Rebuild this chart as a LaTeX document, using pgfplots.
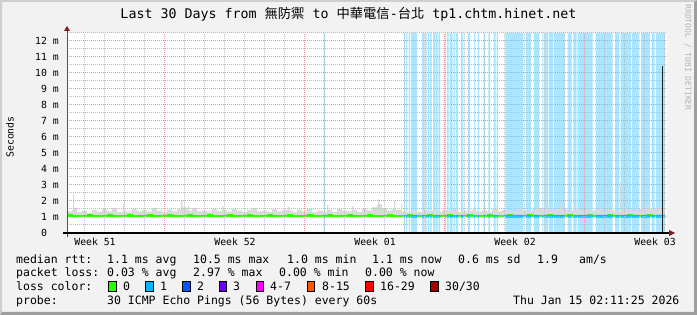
\documentclass[border=0pt]{standalone}
\usepackage{pgfplots}
\pgfplotsset{compat=1.18}
\usepackage{pgfplotstable}
\usepackage{fontspec}
\setmainfont{DejaVu Sans Mono}
\newfontfamily\cjk{Noto Sans CJK TC}
\definecolor{bgc}{HTML}{F2F2F2}
\definecolor{shadea}{HTML}{CFCFCF}
\definecolor{shadeb}{HTML}{9E9E9E}
\definecolor{mgrid}{HTML}{EB9595}
\definecolor{ggrid}{HTML}{BDBDBD}
\definecolor{arrowc}{HTML}{801F1F}
\definecolor{axisc}{HTML}{505050}
\definecolor{lossbg}{HTML}{AAE6FF}
\definecolor{smoke}{HTML}{DADADA}
\definecolor{lc0}{HTML}{26FF00}
\definecolor{lc1}{HTML}{00B8FF}
\definecolor{lc2}{HTML}{0059FF}
\definecolor{lc3}{HTML}{6A00FF}
\definecolor{lc4}{HTML}{FF00FF}
\definecolor{lc8}{HTML}{FF5500}
\definecolor{lc16}{HTML}{FF0000}
\definecolor{lc30}{HTML}{A10000}
\definecolor{wm}{HTML}{B4B4B4}

% loss stripes (x in days since start; s=1 where a packet was lost)
\pgfplotstableread{
x s
0 0
12.83 1
12.91 0
16.85 1
16.89 0
16.95 1
17.015 0
17.075 1
17.15 0
17.20 1
17.50 0
17.75 1
17.85 0
17.90 1
17.975 0
18.025 1
18.10 0
18.15 1
18.225 0
18.30 1
18.40 0
18.435 1
18.535 0
18.565 1
18.65 0
18.90 1
18.95 0
19.00 1
19.075 0
19.125 1
19.275 0
19.325 1
19.40 0
19.45 1
19.55 0
19.70 1
19.80 0
20.035 1
20.15 0
20.35 1
20.415 0
20.535 1
20.60 0
20.835 1
20.90 0
21.065 1
21.15 0
21.335 1
21.435 0
21.485 1
21.55 0
21.915 1
22.815 0
22.95 1
23.20 0
23.335 1
23.615 0
23.765 1
23.815 0
23.865 1
24.065 0
24.10 1
24.315 0
24.35 1
24.885 0
25.035 1
25.235 0
25.315 1
25.485 0
25.535 1
26.285 0
26.435 1
27.285 0
27.40 1
27.615 0
27.685 1
28.20 0
28.25 1
28.615 0
28.70 1
29.15 0
29.235 1
29.385 0
29.45 1
29.90 0
30 0
}\stripes

% smoke upper envelope (ms), closed back along 1.0 ms
\pgfplotstableread{
x y
0.00 1.35
0.25 1.45
0.30 2.45
0.36 1.55
0.50 1.30
0.75 1.40
1.00 1.25
1.25 1.45
1.50 1.30
1.75 1.50
2.00 1.35
2.25 1.55
2.50 1.30
2.80 1.85
2.86 1.40
3.00 1.30
3.25 1.50
3.50 1.35
3.75 1.45
4.00 1.30
4.25 1.55
4.50 1.40
4.75 1.30
5.00 1.45
5.25 1.35
5.50 1.50
5.70 2.00
5.78 1.60
6.00 1.45
6.05 1.70
6.10 1.40
6.25 1.55
6.50 1.35
6.75 1.40
7.00 1.30
7.25 1.50
7.50 1.35
7.75 1.70
7.82 1.45
8.00 1.30
8.25 1.50
8.50 1.40
8.75 1.30
9.00 1.45
9.25 1.55
9.50 1.35
9.75 1.40
10.00 1.30
10.25 1.50
10.50 1.35
10.75 1.45
11.05 1.65
11.12 1.40
11.25 1.30
11.50 1.45
11.75 1.35
12.00 1.50
12.25 1.30
12.50 1.40
12.75 1.35
13.00 1.75
13.07 1.45
13.25 1.30
13.50 1.50
13.75 1.40
14.00 1.35
14.25 1.70
14.32 1.45
14.50 1.30
14.75 1.50
15.00 1.40
15.25 1.60
15.50 1.75
15.55 2.10
15.62 1.80
15.75 1.55
16.00 1.40
16.25 1.50
16.35 2.00
16.42 1.45
16.70 1.80
16.76 1.35
17.00 1.30
17.25 1.40
17.50 1.30
17.75 1.45
18.00 1.35
18.25 1.40
18.50 1.30
18.75 1.45
19.00 1.35
19.25 1.50
19.50 1.30
19.75 1.40
20.00 1.35
20.25 1.45
20.40 1.60
20.46 1.35
20.75 1.40
21.00 1.30
21.25 1.50
21.50 1.35
21.75 1.45
22.00 1.40
22.25 1.35
22.50 1.45
22.65 1.60
22.72 1.40
23.00 1.35
23.25 1.50
23.50 1.55
23.75 1.45
24.00 1.60
24.25 1.50
24.50 1.45
24.65 1.75
24.72 1.50
25.00 1.40
25.35 1.70
25.42 1.45
25.75 1.35
26.00 1.45
26.25 1.40
26.50 1.50
26.75 1.35
27.00 1.45
27.25 1.40
27.50 1.35
27.65 3.10
27.70 1.55
28.00 1.45
28.25 1.40
28.45 1.65
28.52 1.50
28.75 1.55
29.05 1.70
29.12 1.50
29.50 1.60
29.80 1.00
0.00 1.00
}\smokedata

% median rtt (ms)
\pgfplotstableread{
x y
0.00 1.05
0.05 1.12
0.22 1.05
1.05 1.12
1.22 1.05
2.05 1.12
2.22 1.05
3.05 1.12
3.22 1.05
4.05 1.12
4.22 1.05
5.05 1.12
5.22 1.05
6.05 1.12
6.22 1.05
7.05 1.12
7.22 1.05
8.05 1.12
8.22 1.05
9.05 1.12
9.22 1.05
10.05 1.12
10.22 1.05
11.05 1.12
11.22 1.05
12.05 1.12
12.22 1.05
13.05 1.12
13.22 1.05
14.05 1.12
14.22 1.05
15.05 1.12
15.22 1.05
16.05 1.12
16.22 1.05
17.05 1.12
17.22 1.05
18.05 1.12
18.22 1.05
19.05 1.12
19.22 1.05
20.05 1.12
20.22 1.05
21.05 1.12
21.22 1.05
22.05 1.12
22.22 1.05
23.05 1.12
23.22 1.05
24.05 1.12
24.22 1.05
25.05 1.12
25.22 1.05
26.05 1.12
26.22 1.05
27.05 1.12
27.22 1.05
28.05 1.12
28.22 1.05
29.05 1.12
29.22 1.05
29.80 1.05
}\mediandata

\begin{document}
\begin{tikzpicture}
\path[use as bounding box] (0,0) rectangle (697bp,315bp);
\fill[bgc] (0,0) rectangle (697bp,315bp);
\fill[shadea] (0,0) -- (0,315bp) -- (697bp,315bp) -- (695bp,313bp) -- (2bp,313bp) -- (2bp,2bp) -- cycle;
\fill[shadeb] (0,0) -- (697bp,0) -- (697bp,315bp) -- (694bp,313bp) -- (694bp,3bp) -- (2bp,3bp) -- cycle;

\begin{axis}[
  at={(67bp,82bp)}, anchor=south west,
  scale only axis, width=600bp, height=200bp,
  xmin=0, xmax=30, ymin=0, ymax=12.5,
  axis line style={draw=none},
  axis background/.style={fill=white},
  axis on top,
  xtick={4.865,11.865,18.865,25.865},
  xticklabels={},
  minor xtick={0.865,1.865,2.865,3.865,5.865,6.865,7.865,8.865,9.865,10.865,12.865,13.865,14.865,15.865,16.865,17.865,19.865,20.865,21.865,22.865,23.865,24.865,26.865,27.865,28.865,29.865},
  extra x ticks={1.4,8.4,15.4,22.4,29.4},
  extra x tick labels={Week 51,Week 52,Week 01,Week 02,Week 03},
  extra x tick style={grid=none},
  ytick={0,1,2,3,4,5,6,7,8,9,10,11,12},
  yticklabels={0\hphantom{ m},1 m,2 m,3 m,4 m,5 m,6 m,7 m,8 m,9 m,10 m,11 m,12 m},
  minor ytick={0.5,1.5,2.5,3.5,4.5,5.5,6.5,7.5,8.5,9.5,10.5,11.5,12.5},
  grid=both,
  major grid style={draw=mgrid, dash pattern=on 1bp off 1bp, line width=1bp},
  minor grid style={draw=ggrid, dash pattern=on 1bp off 1bp, line width=1bp},
  major tick length=0pt, minor tick length=0pt,
  xticklabel style={font=\fontsize{9.8bp}{11bp}\selectfont, anchor=center, inner sep=0pt, yshift=-9bp},
  yticklabel style={font=\fontsize{9.8bp}{11bp}\selectfont, anchor=east, inner sep=0pt, xshift=-8bp},
  clip=true,
]
\addplot[const plot, fill=lossbg, draw=none] table[x=x, y expr=\thisrow{s}*12.5] {\stripes} \closedcycle;
\addplot[const plot, fill=smoke, draw=none] table[x=x, y=y] {\smokedata};
\addplot[const plot, draw=lc0, line width=2.6bp] table[x=x, y=y] {\mediandata};
\addplot[const plot, fill=lc1, draw=none] table[x=x, y expr=0.965+0.17*\thisrow{s}] {\stripes};
\addplot[draw=black!88, line width=1.6bp] coordinates {(29.77,0) (29.77,10.45)};
\end{axis}

% axes lines and arrows
\draw[axisc, line width=1bp] (67bp,78bp) -- (67bp,284bp);
\fill[arrowc] (64bp,284bp) -- (67bp,289bp) -- (70bp,284bp) -- cycle;
\draw[black, line width=1.5bp] (63bp,82bp) -- (669bp,82bp);
\fill[arrowc] (669bp,79bp) -- (675bp,82bp) -- (669bp,85bp) -- cycle;

% title and labels
\node[inner sep=0pt, font=\fontsize{13.3bp}{15bp}\selectfont] at (348.5bp,301bp)
  {Last 30 Days from {\cjk 無防禦} to {\cjk 中華電信}-{\cjk 台北} tp1.chtm.hinet.net};
\node[inner sep=0pt, rotate=90, font=\fontsize{9.8bp}{11bp}\selectfont] at (10bp,178bp) {Seconds};
\node[inner sep=0pt, rotate=-90, text=wm, font=\fontsize{8bp}{9bp}\selectfont] at (688bp,257.5bp) {RRDTOOL / TOBI OETIKER};

% legend
\begin{scope}[every node/.style={inner sep=0pt, anchor=base west, font=\fontsize{11.5bp}{13bp}\selectfont}]
\node at (16bp,51.7bp) {median rtt:};
\node at (107bp,51.7bp) {1.1 ms avg};
\node at (193bp,51.7bp) {10.5 ms max};
\node at (287bp,51.7bp) {1.0 ms min};
\node at (372bp,51.7bp) {1.1 ms now};
\node at (458bp,51.7bp) {0.6 ms sd};
\node at (537bp,51.7bp) {1.9};
\node at (579bp,51.7bp) {am/s};

\node at (16bp,38.3bp) {packet loss:};
\node at (107bp,38.3bp) {0.03 \% avg};
\node at (193bp,38.3bp) {2.97 \% max};
\node at (279bp,38.3bp) {0.00 \% min};
\node at (365bp,38.3bp) {0.00 \% now};

\node at (16bp,25bp) {loss color:};
\node at (123bp,25bp) {0};
\node at (160bp,25bp) {1};
\node at (197bp,25bp) {2};
\node at (233bp,25bp) {3};
\node at (270bp,25bp) {4-7};
\node at (322bp,25bp) {8-15};
\node at (380bp,25bp) {16-29};
\node at (445bp,25bp) {30/30};

\node at (16bp,10.7bp) {probe:};
\node at (107bp,10.7bp) {30 ICMP Echo Pings (56 Bytes) every 60s};
\node at (513bp,10.7bp) {Thu Jan 15 02:11:25 2026};
\end{scope}
\foreach \xx/\cc in {108.7/lc0,145.7/lc1,182.7/lc2,219/lc3,256/lc4,307/lc8,365.7/lc16,430.7/lc30}{
  \filldraw[fill=\cc, draw=black, line width=0.8bp] (\xx bp,23.5bp) rectangle ++(7.7bp,10bp);
}
\end{tikzpicture}
\end{document}
